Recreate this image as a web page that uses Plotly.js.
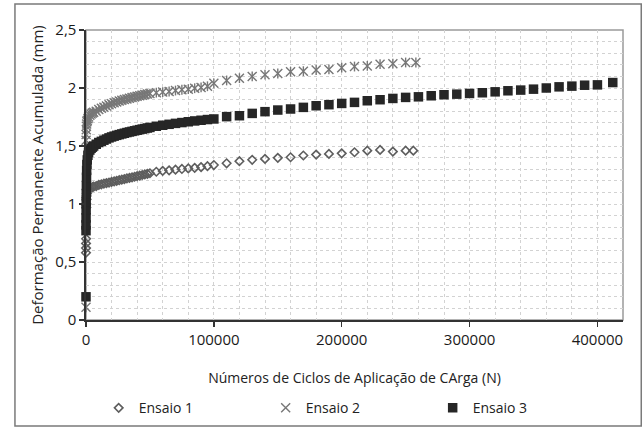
<!DOCTYPE html>
<html>
<head>
<meta charset="utf-8">
<script src="https://cdn.plot.ly/plotly-3.0.1.min.js"></script>
<style>html,body{margin:0;padding:0;background:#fff;}#chart{width:643px;height:427px;}</style>
</head>
<body>
<div id="chart"></div>
<script>
// ---- data ----
const seriesNames = ['Ensaio 1', 'Ensaio 2', 'Ensaio 3'];

const ciclos1 = [1, 10, 50, 100, 200, 300, 400, 500, 700, 1000, 1500, 2000, 3000, 4000, 5000, 6000, 8000,
  10000, 12000, 14000, 16000, 18000, 20000, 22000, 24000, 26000, 28000, 30000, 32000, 34000, 36000, 38000,
  40000, 42000, 44000, 46000, 48000, 50000,
  55000, 60000, 65000, 70000, 75000, 80000, 85000, 90000, 95000,
  100000, 110000, 120000, 130000, 140000, 150000, 160000, 170000, 180000, 190000, 200000,
  210000, 220000, 230000, 240000, 250000, 256000];
const ensaio1 = [0.58, 0.62, 0.66, 0.70, 0.97, 1.00, 1.04, 1.07, 1.09, 1.11, 1.12, 1.13, 1.135, 1.14, 1.145, 1.15, 1.155,
  1.165, 1.17, 1.175, 1.18, 1.185, 1.19, 1.195, 1.20, 1.205, 1.21, 1.215, 1.22, 1.225, 1.23, 1.235,
  1.24, 1.245, 1.25, 1.255, 1.26, 1.265,
  1.278, 1.285, 1.29, 1.296, 1.302, 1.307, 1.312, 1.318, 1.326,
  1.336, 1.351, 1.369, 1.381, 1.389, 1.398, 1.403, 1.418, 1.426, 1.432, 1.437,
  1.446, 1.460, 1.466, 1.452, 1.460, 1.460];

const ciclos2 = [1, 10, 50, 100, 200, 300, 500, 700, 1000, 1500, 2000, 3000, 4000, 5000, 6000, 8000,
  10000, 12000, 14000, 16000, 18000, 20000, 22000, 24000, 26000, 28000, 30000, 32000, 34000, 36000, 38000,
  40000, 42000, 44000, 46000, 48000, 50000,
  55000, 60000, 65000, 70000, 75000, 80000, 85000, 90000, 95000,
  100000, 110000, 120000, 130000, 140000, 150000, 160000, 170000, 180000, 190000, 200000,
  210000, 220000, 230000, 240000, 250000, 258000];
const ensaio2 = [0.11, 1.00, 1.55, 1.60, 1.64, 1.67, 1.69, 1.71, 1.72, 1.735, 1.75, 1.765, 1.775, 1.785, 1.79, 1.80,
  1.815, 1.825, 1.835, 1.845, 1.855, 1.865, 1.872, 1.88, 1.887, 1.894, 1.90, 1.906, 1.912, 1.918, 1.923,
  1.928, 1.933, 1.938, 1.943, 1.948, 1.952,
  1.96, 1.965, 1.97, 1.978, 1.985, 1.99, 1.998, 2.005, 2.015,
  2.04, 2.065, 2.085, 2.10, 2.115, 2.125, 2.14, 2.145, 2.155, 2.16, 2.175,
  2.185, 2.19, 2.205, 2.21, 2.22, 2.22];

const ciclos3 = [1, 10, 20, 50, 100, 150, 200, 300, 400, 500, 700, 1000, 1500, 2000, 3000, 4000, 5000, 6000, 8000,
  10000, 12000, 14000, 16000, 18000, 20000, 22000, 24000, 26000, 28000, 30000, 32000, 34000, 36000, 38000,
  40000, 42000, 44000, 46000, 48000, 50000,
  55000, 60000, 65000, 70000, 75000, 80000, 85000, 90000, 95000,
  100000, 110000, 120000, 130000, 140000, 150000, 160000, 170000, 180000, 190000, 200000,
  210000, 220000, 230000, 240000, 250000, 260000, 270000, 280000, 290000, 300000,
  310000, 320000, 330000, 340000, 350000, 360000, 370000, 380000, 390000, 400000, 412000];
const ensaio3 = [0.20, 0.77, 0.82, 0.88, 0.95, 1.02, 1.09, 1.16, 1.23, 1.29, 1.34, 1.38, 1.42, 1.445, 1.465, 1.48, 1.49, 1.50, 1.515,
  1.53, 1.54, 1.55, 1.56, 1.57, 1.578, 1.585, 1.592, 1.598, 1.604, 1.61, 1.616, 1.621, 1.626, 1.631,
  1.636, 1.641, 1.646, 1.65, 1.655, 1.66,
  1.67, 1.679, 1.687, 1.695, 1.702, 1.709, 1.716, 1.722, 1.728,
  1.733, 1.753, 1.761, 1.781, 1.796, 1.81, 1.819, 1.833, 1.847, 1.856, 1.867,
  1.876, 1.89, 1.899, 1.91, 1.919, 1.924, 1.933, 1.942, 1.947, 1.953,
  1.959, 1.967, 1.976, 1.982, 1.99, 2.0, 2.01, 2.016, 2.024, 2.027, 2.047];

const xTitle = 'Números de Ciclos de Aplicação de CArga (N)';
const yTitle = 'Deformação Permanente Acumulada (mm)';

// ---- traces ----
const traces = [
  {x: ciclos1, y: ensaio1, name: seriesNames[0], type: 'scatter', mode: 'markers', cliponaxis: false,
   legendgroup: 'e1',
   marker: {symbol: 'diamond-open', size: 6.5, color: '#5e5e5e', line: {color: '#5e5e5e', width: 1.6}}},
  {x: ciclos2, y: ensaio2, name: seriesNames[1], type: 'scatter', mode: 'markers', cliponaxis: false,
   legendgroup: 'e2',
   marker: {symbol: 'x-thin', size: 9, color: '#777777', line: {color: '#777777', width: 1.4}}},
  {x: ciclos2, y: ensaio2, name: seriesNames[1], type: 'scatter', mode: 'markers', cliponaxis: false,
   legendgroup: 'e2', showlegend: false, hoverinfo: 'skip',
   marker: {symbol: 'line-ns', size: 7, color: '#777777', line: {color: '#777777', width: 1.4}}},
  {x: ciclos3, y: ensaio3, name: seriesNames[2], type: 'scatter', mode: 'markers', cliponaxis: false,
   legendgroup: 'e3',
   marker: {symbol: 'square', size: 9.5, color: '#262626', line: {width: 0}}}
];

const layout = {
  width: 643, height: 427,
  margin: {l: 86, r: 20, t: 30, b: 107},
  paper_bgcolor: '#ffffff', plot_bgcolor: '#ffffff',
  separators: ',.',
  font: {family: 'Open Sans, DejaVu Sans, sans-serif', color: '#222', size: 15},
  showlegend: true,
  legend: {orientation: 'h', x: 0.0236, xanchor: 'left', yref: 'container', y: 0.044, yanchor: 'middle',
           entrywidth: 122, entrywidthmode: 'pixels', font: {size: 14, color: '#222'},
           bgcolor: 'rgba(0,0,0,0)', traceorder: 'normal', itemwidth: 30},
  xaxis: {
    range: [0, 420000], tickmode: 'linear', tick0: 0, dtick: 100000, tickformat: 'd',
    ticks: 'outside', ticklen: 5, tickcolor: '#333', tickwidth: 1.3,
    showline: true, linecolor: '#333', linewidth: 1.6, zeroline: false,
    showgrid: true, gridcolor: '#d2d2d2', gridwidth: 1, griddash: 'dot',
    tickfont: {size: 15, color: '#1a1a1a'}, automargin: false,
    title: {text: xTitle, font: {size: 14, color: '#222'}, standoff: 25},
    minor: {dtick: 20000, showgrid: true, gridcolor: '#d2d2d2', gridwidth: 1, griddash: 'dot', ticks: ''}
  },
  yaxis: {
    range: [0, 2.5], tickmode: 'linear', tick0: 0, dtick: 0.5,
    ticks: 'outside', ticklen: 5, tickcolor: '#333', tickwidth: 1.3,
    showline: true, linecolor: '#333', linewidth: 1.6, zeroline: false,
    showgrid: true, gridcolor: '#d2d2d2', gridwidth: 1, griddash: 'dot',
    tickfont: {size: 15, color: '#1a1a1a'}, automargin: false,
    title: {text: yTitle, font: {size: 15, color: '#222'}, standoff: 8},
    minor: {dtick: 0.1, showgrid: true, gridcolor: '#d2d2d2', gridwidth: 1, griddash: 'dot', ticks: ''}
  },
  shapes: [
    {type: 'rect', xref: 'paper', yref: 'paper', x0: 0, x1: 1, y0: 0, y1: 1,
     line: {color: '#9a9a9a', width: 1.5}, layer: 'below'},
    {type: 'rect', xref: 'paper', yref: 'paper', x0: -0.1323, x1: 1.034, y0: -0.3655, y1: 1.0897,
     line: {color: '#7a7a7a', width: 1.5}, layer: 'below'}
  ]
};

Plotly.newPlot('chart', traces, layout, {staticPlot: true, displayModeBar: false});
</script>
</body>
</html>
